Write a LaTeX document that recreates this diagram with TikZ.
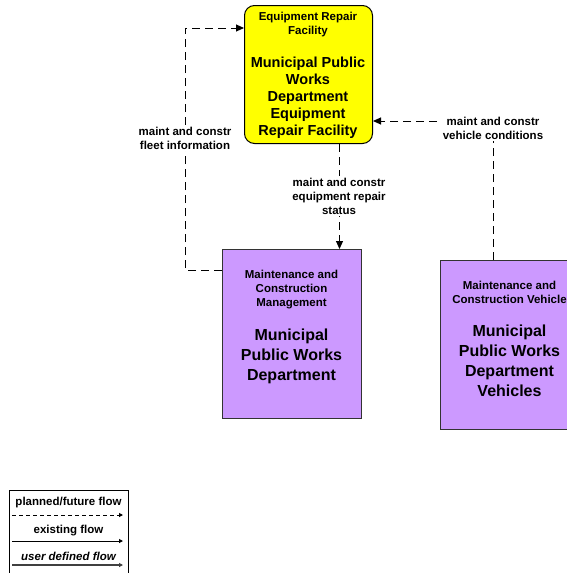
\documentclass[tikz,border=0pt]{standalone}
\usepackage{fontspec}
\setmainfont{Liberation Sans}
\usetikzlibrary{arrows.meta}
\definecolor{boxyellow}{RGB}{255,255,0}
\definecolor{boxpurple}{RGB}{204,153,255}
\begin{document}
\begin{tikzpicture}[x=1pt,y=-1pt,
  ybox/.style={draw=black, line width=1pt, fill=boxyellow, rounded corners=10pt, anchor=north west, inner sep=0pt},
  pbox/.style={draw=black!80, line width=1pt, fill=boxpurple, anchor=north west, inner sep=0pt},
  small/.style={font=\fontsize{11.5}{14}\selectfont\bfseries, align=center, inner sep=0pt},
  bigy/.style={font=\fontsize{14.5}{17}\selectfont\bfseries, align=center, inner sep=0pt},
  bigp/.style={font=\fontsize{16}{20}\selectfont\bfseries, align=center, inner sep=0pt},
  flow/.style={draw=black, line width=1pt, dash pattern=on 8pt off 5pt, -{Triangle[length=8pt,width=7pt]}},
  flowlabel/.style={font=\fontsize{11.5}{14}\selectfont\bfseries, align=center, fill=white, inner sep=2pt},
  legtext/.style={font=\fontsize{11.5}{13}\selectfont\bfseries, inner sep=0pt}
]
\clip (0,0) rectangle (567,573);
\fill[white] (0,0) rectangle (567,573);

% boxes
\node[ybox, minimum width=128pt, minimum height=138pt] (erf) at (244,5) {};
\node[small] (erfs) at (308,25) {Equipment Repair\\Facility};
\node[bigy] (erfb) at (308,98) {Municipal Public\\Works\\Department\\Equipment\\Repair Facility};

\node[pbox, minimum width=139pt, minimum height=169pt] (mcm) at (222,249) {};
\node[small] (mcms) at (291.5,290) {Maintenance and\\Construction\\Management};
\node[bigp] (mcmb) at (291.5,356) {Municipal\\Public Works\\Department};

\node[pbox, minimum width=139pt, minimum height=169pt] (veh) at (440,260) {};
\node[small] (vehs) at (509.5,292) {Maintenance and\\Construction Vehicle};
\node[bigp] (vehb) at (509.5,361) {Municipal\\Public Works\\Department\\Vehicles};

% flows
\draw[flow] ([yshift=-21pt]mcm.north west) -- ++(-37,0) |- ([yshift=-23pt]erf.north west);
\draw[flow] ([xshift=31pt]erf.south) -- ([xshift=31pt]erf.south |- mcm.north);
\draw[flow] ([xshift=53pt]veh.north west) |- ([yshift=23pt]erf.south east);

\node[flowlabel] (l1) at (185,138) {maint and constr\\fleet information};
\node[flowlabel] (l2) at (339,196) {maint and constr\\equipment repair\\status};
\node[flowlabel] (l3) at (493,128) {maint and constr\\vehicle conditions};

% legend
\node[draw=black, line width=1pt, anchor=north west, minimum width=119pt, minimum height=100pt, inner sep=0pt] (leg) at (9,490) {};
\node[legtext] (lg1) at (68.5,503) {planned/future flow};
\coordinate (a1) at (12,515);
\coordinate (b1) at (123,515);
\draw[line width=1pt, dash pattern=on 4pt off 3pt, -{Triangle[length=4pt,width=4pt]}] (a1) -- (b1);
\node[legtext] (lg2) at (68.5,531) {existing flow};
\coordinate (a2) at (12,541);
\coordinate (b2) at (123,541);
\draw[line width=1pt, -{Triangle[length=4pt,width=4pt]}] (a2) -- (b2);
\node[legtext, font=\fontsize{11.5}{13}\selectfont\bfseries\itshape] (lg3) at (68.5,556) {user defined flow};
\coordinate (a3) at (12,565);
\coordinate (b3) at (123,565);
\draw[line width=1.5pt, draw=black!75, -{Triangle[length=4pt,width=4pt]}] (a3) -- (b3);
\end{tikzpicture}
\end{document}
